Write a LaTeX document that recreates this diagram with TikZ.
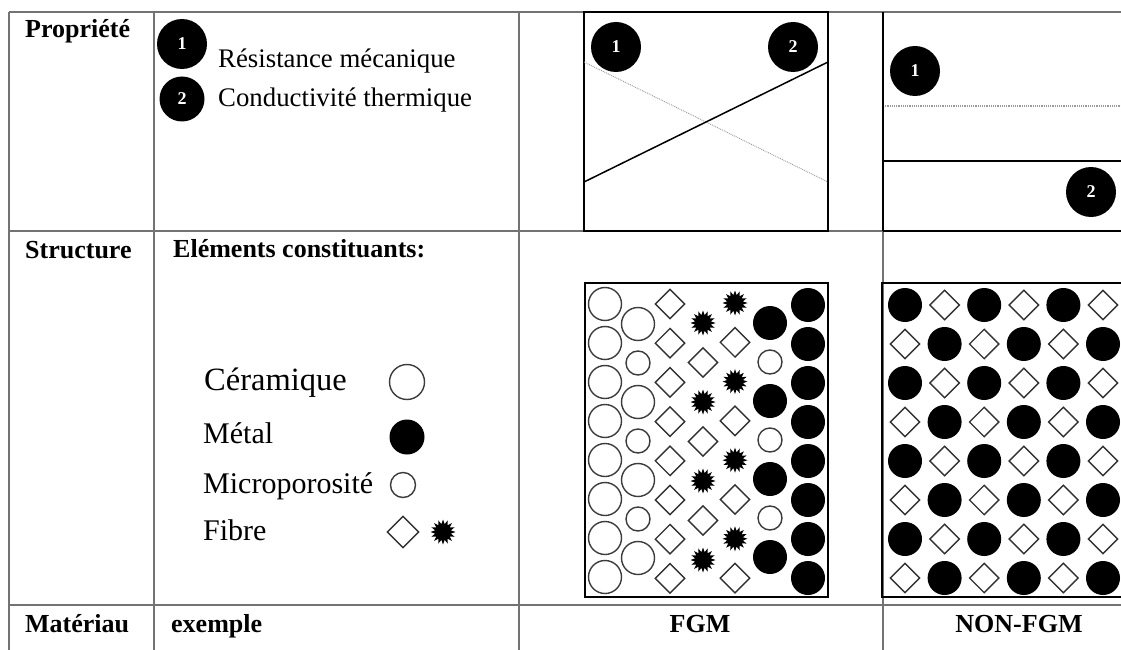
\documentclass[tikz,border=0pt]{standalone}
\usepackage{fontspec}
\setmainfont{Liberation Serif}
\usetikzlibrary{shapes.geometric}
\begin{document}
\begin{tikzpicture}[x=1pt,y=-1pt,
  gridline/.style={draw={rgb,255:red,115;green,115;blue,115},line width=1.7pt},
  boxline/.style={draw=black,line width=1.3pt},
  thickbox/.style={draw=black,line width=2.2pt},
  head/.style={font=\fontsize{26}{30}\selectfont\bfseries,inner sep=0pt},
  txt/.style={font=\fontsize{26.8}{30}\selectfont,inner sep=0pt},
  legtxt/.style={font=\fontsize{30}{34}\selectfont,inner sep=0pt},
  numdot/.style={circle,fill=black,inner sep=0pt,minimum size=50pt,
    text=white,font=\fontsize{18}{20}\selectfont\bfseries},
  bigopen/.style={circle,draw={rgb,255:red,60;green,60;blue,60},line width=1.4pt,inner sep=0pt,minimum size=33pt},
  smallopen/.style={circle,draw={rgb,255:red,60;green,60;blue,60},line width=1.4pt,inner sep=0pt,minimum size=24pt},
  filled/.style={circle,fill=black,inner sep=0pt,minimum size=34pt},
  fibre/.style={diamond,draw={rgb,255:red,50;green,50;blue,50},line width=1.4pt,inner sep=0pt,minimum size=30pt},
  spiky/.style={star,star points=16,star point ratio=1.55,fill=black,inner sep=0pt,minimum size=25pt},
]
\useasboundingbox (0,0) rectangle (1121,650);
\fill[white] (0,0) rectangle (1121,650);

% table rules
\draw[gridline] (9,12) -- (1121,12);
\draw[gridline] (9,231) -- (1121,231);
\draw[gridline] (9,605) -- (1121,605);
\draw[gridline] (9,12) -- (9,650);
\draw[gridline] (154,12) -- (154,650);
\draw[gridline] (519,12) -- (519,650);
\draw[gridline] (883,12) -- (883,650);

% row headers
\node[head,anchor=base west] (hprop) at (25,38) {Propriété};
\node[head,anchor=base west] (hstruct) at (25,258) {Structure};
\node[head,anchor=base west] (hmat) at (25,632) {Matériau};

% property legend
\node[numdot] (k1) at (182,44) {1};
\node[numdot,minimum size=45pt] (k2) at (182,99) {2};
\node[txt,anchor=base west] (t1) at (218,68) {Résistance mécanique};
\node[txt,anchor=base west] (t2) at (218,107) {Conductivité thermique};

% FGM property profile
\draw[boxline] (584,12) rectangle (828,231);
\coordinate (fa) at (584,62);
\coordinate (fb) at (828,182);
\coordinate (fc) at (584,182);
\coordinate (fd) at (828,62);
\draw[gray!80,line width=0.9pt,densely dotted] (fa) -- (fb);
\draw[black,line width=1.5pt] (fc) -- (fd);
\node[numdot] (p1) at (616,47) {1};
\node[numdot] (p2) at (793,47) {2};

% NON-FGM property profile
\coordinate (na) at (883,106);
\coordinate (nb) at (1121,106);
\coordinate (nc) at (883,161);
\coordinate (nd) at (1121,161);
\coordinate (ne) at (883,231);
\coordinate (nf) at (1121,231);
\draw[gray!80,line width=1.2pt,densely dotted] (na) -- (nb);
\draw[black,line width=1.3pt] (nc) -- (nd);
\draw[black,line width=1.8pt] (ne) -- (nf);
\draw[black,line width=1.5pt] (883,12) -- (883,231);
\node[numdot] (q1) at (915,71) {1};
\node[numdot] (q2) at (1091,192) {2};

% structure legend
\node[head,anchor=base west] (hel) at (173,257) {Eléments constituants:};
\node[legtxt,font=\fontsize{32.5}{36}\selectfont,anchor=base west] (lc) at (204,390) {Céramique};
\node[legtxt,anchor=base west] (lm) at (203,443) {Métal};
\node[legtxt,anchor=base west] (lp) at (203,493) {Microporosité};
\node[legtxt,anchor=base west] (lf) at (203,540) {Fibre};
\node[bigopen,minimum size=35pt] (sc) at (407,382) {};
\node[filled,minimum size=35pt] (sm) at (407,437) {};
\node[smallopen,minimum size=25pt] (sp) at (403,485) {};
\node[fibre,minimum size=32pt] (sf) at (403,532) {};
\node[spiky] (ss) at (443,532) {};

% FGM microstructure
\draw[thickbox] (585,283) rectangle (828,597);
\foreach \i in {0,...,7}
  \node[bigopen] (g1-\i) at (605,304+39*\i) {};
\foreach \i in {0,...,6}{
  \ifodd\i \node[smallopen] (g2-\i) at (638,324+39*\i) {};
  \else \node[bigopen] (g2-\i) at (638,324+39*\i) {}; \fi}
\foreach \i in {0,...,7}
  \node[fibre] (g3-\i) at (670,304+39.2*\i) {};
\foreach \i in {0,...,6}{
  \ifodd\i \node[fibre] (g4-\i) at (703,323+39.5*\i) {};
  \else \node[spiky] (g4-\i) at (703,323+39.5*\i) {}; \fi}
\foreach \i in {0,...,7}{
  \ifodd\i \node[fibre] (g5-\i) at (735,303+39.3*\i) {};
  \else \node[spiky] (g5-\i) at (735,303+39.3*\i) {}; \fi}
\foreach \i in {0,...,6}{
  \ifodd\i \node[smallopen] (g6-\i) at (770,323+39*\i) {};
  \else \node[filled] (g6-\i) at (770,323+39*\i) {}; \fi}
\foreach \i in {0,...,7}
  \node[filled] (g7-\i) at (808,305+39*\i) {};

% NON-FGM microstructure
\draw[thickbox] (1125,283) -- (882,283) -- (882,597) -- (1125,597);
\foreach \j in {0,...,5}
  \foreach \i in {0,...,7}{
    \pgfmathtruncatemacro{\cellpar}{mod(\i+\j,2)}
    \ifnum\cellpar=0
      \node[filled] (h\j-\i) at (905+39.6*\j,305+39*\i) {};
    \else
      \node[fibre] (h\j-\i) at (905+39.6*\j,305+39*\i) {};
    \fi}

% bottom row
\node[head,anchor=base west] (hex) at (171,632) {exemple};
\node[head,anchor=base] (hfgm) at (700,632) {FGM};
\node[head,anchor=base] (hnon) at (1019,632) {NON-FGM};
\end{tikzpicture}
\end{document}
